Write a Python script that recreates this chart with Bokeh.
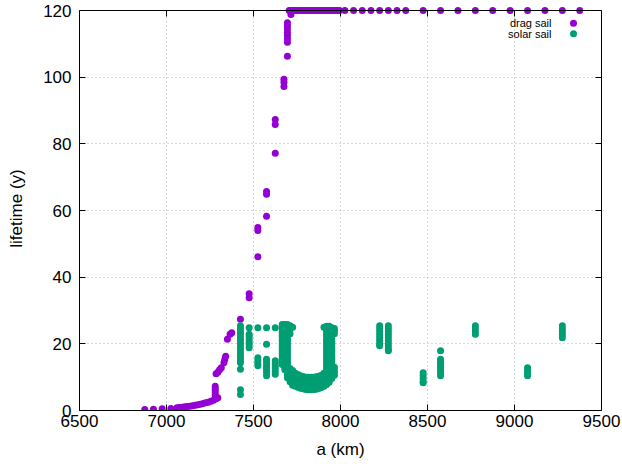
from bokeh.plotting import figure
from bokeh.models import Range1d, LinearAxis, FixedTicker, ColumnDataSource
from bokeh.core.properties import value
from bokeh.embed import file_html
from bokeh.resources import INLINE

PURPLE = "#9400d3"
GREEN = "#009e73"
FONT = "Liberation Sans"

x_ticks = [6500, 7000, 7500, 8000, 8500, 9000, 9500]
y_ticks = [0, 20, 40, 60, 80, 100, 120]
x_min, x_max = 6500, 9500
y_min, y_max = 0, 120

# ---- drag sail (a [km], lifetime [y]) ----
drag_low_a = [6875, 6925, 6975, 7025, 7060, 7075, 7090, 7105, 7120, 7135, 7150, 7165,
              7180, 7195, 7210, 7225, 7240, 7255, 7270, 7285, 7295]
drag_low_life = [0.3, 0.4, 0.5, 0.6, 0.8, 0.9, 1.0, 1.1, 1.2, 1.3, 1.4, 1.6,
                 1.7, 1.9, 2.1, 2.3, 2.5, 2.8, 3.1, 3.5, 3.8]
drag_mid_a = [7280, 7280, 7280, 7280, 7280, 7285, 7295, 7305, 7315, 7330, 7335, 7340,
              7350, 7365, 7375, 7425, 7475, 7475, 7525, 7525, 7525, 7575, 7575, 7575,
              7625, 7625, 7625, 7675, 7675, 7675, 7695, 7695, 7695, 7695, 7695, 7695,
              7695, 7695, 7715]
drag_mid_life = [4.5, 5.2, 5.9, 6.6, 7.3, 11.0, 11.5, 12.2, 12.8, 14.3, 15.3, 16.3,
                 21.4, 22.9, 23.3, 27.4, 35.0, 33.8, 46.1, 54.9, 54.0, 58.3, 65.7, 64.9,
                 77.2, 87.3, 85.8, 99.4, 98.5, 97.2, 106.3, 110.5, 111.5, 112.5, 113.5, 114.5,
                 115.5, 116.3, 118.8]
drag_top_a = [7705, 7715, 7725, 7735, 7745, 7755, 7765, 7775, 7785, 7795, 7805, 7815,
              7825, 7835, 7845, 7855, 7865, 7875, 7885, 7895, 7905, 7915, 7925, 7935,
              7945, 7955, 7965, 7975, 7985, 7995,
              8025, 8075, 8125, 8175, 8225, 8275, 8325, 8375,
              8475, 8575, 8675, 8775, 8875, 8975, 9075, 9175, 9275, 9375]
drag_top_life = [120] * len(drag_top_a)

# ---- solar sail: lifetimes listed per semi-major axis ----
solar_cols = {
    7425: [25.4, 24.6, 23.8, 23.0, 22.2, 21.4, 20.6, 19.8, 19.0, 18.2, 17.4, 16.6, 15.8, 15.0, 14.3, 12.4, 6.2, 4.8],
    7475: [24.8, 22.9, 22.1, 21.3, 20.5, 19.7, 18.8],
    7525: [24.8, 15.8, 15.0, 14.2, 13.4],
    7575: [24.8, 19.9, 15.4, 14.6, 13.8, 13.0, 12.2, 11.4, 10.4],
    7625: [24.8, 14.9, 14.1, 13.3, 12.5, 11.7, 10.9],
    7665: [25.8, 25.0, 24.2, 23.4, 22.6, 21.8, 21.0, 20.2, 19.4, 18.6, 17.8, 17.0, 16.2, 15.4, 14.6, 13.8],
    7680: [25.8, 25.0, 24.2, 23.4, 22.6, 21.8, 21.0, 20.2, 19.4, 18.6, 17.8, 17.0, 16.2, 15.4, 14.6, 13.8, 13.0, 12.2],
    7695: [25.8, 25.0, 24.2, 23.4, 22.6, 21.8, 21.0, 20.2, 19.4, 18.6, 17.8, 17.0, 16.2, 15.4, 14.6, 13.8, 13.0, 12.2, 11.4, 10.6, 9.8],
    7710: [25.4, 24.4, 23.0, 12.6, 11.8, 11.0, 10.2, 9.4, 8.6],
    7725: [25.0, 12.0, 11.2, 10.4, 9.6, 8.8, 8.0, 7.6],
    7740: [11.2, 10.4, 9.6, 8.8, 8.0, 7.3],
    7755: [10.8, 10.0, 9.2, 8.4, 7.6, 7.0],
    7770: [10.4, 9.6, 8.8, 8.0, 7.2, 6.7],
    7785: [10.2, 9.4, 8.6, 7.8, 7.0, 6.5],
    7800: [10.0, 9.2, 8.4, 7.6, 6.8, 6.3],
    7815: [10.0, 9.2, 8.4, 7.6, 6.8, 6.2],
    7830: [10.0, 9.2, 8.4, 7.6, 6.8, 6.2],
    7845: [10.0, 9.2, 8.4, 7.6, 6.8, 6.3],
    7860: [10.1, 9.3, 8.5, 7.7, 6.9, 6.4],
    7875: [10.3, 9.5, 8.7, 7.9, 7.1, 6.6],
    7890: [10.6, 9.8, 9.0, 8.2, 7.4, 6.9],
    7905: [25.0, 11.2, 10.4, 9.6, 8.8, 8.0, 7.3],
    7920: [25.3, 24.5, 23.7, 22.9, 22.1, 21.3, 20.5, 19.7, 18.9, 18.1, 17.3, 16.5, 15.7, 14.9, 14.1, 13.3, 12.5, 11.7, 10.9, 10.1, 9.3, 8.5, 7.8],
    7935: [25.3, 24.5, 23.7, 22.9, 22.1, 21.3, 20.5, 19.7, 18.9, 18.1, 17.3, 16.5, 15.7, 14.9, 14.1, 13.3, 12.5, 11.7, 10.9, 10.1, 9.3, 8.5],
    7950: [24.8, 24.0, 23.2, 22.4, 21.6, 20.8, 20.0, 19.2, 18.4, 17.6, 16.8, 16.0, 15.2, 14.4, 13.6, 12.8, 12.0, 11.2, 10.4, 9.6],
    7965: [24.6, 23.8, 23.0, 13.0, 12.2, 11.4, 10.6],
    8225: [25.4, 24.5, 23.6, 22.7, 21.8, 20.9, 20.0, 19.4],
    8275: [25.4, 24.5, 23.6, 22.7, 21.8, 20.9, 20.0, 19.1, 18.2, 17.9],
    8475: [11.3, 10.4, 9.5, 8.6, 8.3],
    8575: [17.9, 15.4, 14.6, 13.8, 13.0, 12.2, 11.4, 10.4],
    8775: [25.4, 24.5, 23.6, 22.9],
    9075: [12.8, 12.0, 11.2, 10.4],
    9275: [25.4, 24.5, 23.6, 22.7, 21.8],
}

legend_labels = ["drag sail", "solar sail"]

# ---- build sources ----
drag_src = ColumnDataSource(dict(a=drag_low_a + drag_mid_a + drag_top_a,
                                 life=drag_low_life + drag_mid_life + drag_top_life))
sa, sl = [], []
for a, lives in solar_cols.items():
    for v in lives:
        sa.append(a)
        sl.append(v)
solar_src = ColumnDataSource(dict(a=sa, life=sl))

# frame: 400 px for 0..120, plus a few px of headroom so the dots at 120 are not clipped
FW, FH0, PAD = 522, 400, 4
FH = FH0 + PAD
y_top = y_max * FH / FH0

p = figure(frame_width=FW, frame_height=FH,
           x_range=Range1d(x_min, x_max), y_range=Range1d(y_min, y_top),
           output_backend="svg", toolbar_location=None,
           min_border_left=79, min_border_right=21, min_border_top=10 - PAD, min_border_bottom=54,
           background_fill_color="white", border_fill_color="white")
p.outline_line_color = None

xt = FixedTicker(ticks=x_ticks)
yt = FixedTicker(ticks=y_ticks)
p.xaxis.ticker = xt
p.yaxis.ticker = yt
p.xgrid.visible = False
p.ygrid.ticker = yt
p.ygrid.grid_line_color = "#b0b0b0"
p.ygrid.grid_line_dash = "1 3"

# vertical grid lines limited to the 0..120 box
gx = x_ticks[1:-1]
p.segment(x0=gx, y0=[y_min] * len(gx), x1=gx, y1=[y_max] * len(gx),
          line_color="#b0b0b0", line_dash="1 3", line_width=1)

for ax in (p.xaxis[0], p.yaxis[0]):
    ax.major_tick_in = 6
    ax.major_tick_out = 0
    ax.minor_tick_in = 0
    ax.minor_tick_out = 0
    ax.axis_line_color = "black"
    ax.major_tick_line_color = "black"
    ax.major_label_text_font = FONT
    ax.major_label_text_font_size = "17px"
    ax.major_label_text_color = "black"
    ax.axis_label_text_font = FONT
    ax.axis_label_text_font_size = "17px"
    ax.axis_label_text_font_style = "normal"
    ax.axis_label_text_color = "black"
p.yaxis[0].bounds = (y_min, y_max)

p.xaxis[0].axis_label = "a (km)"
p.yaxis[0].axis_label = "lifetime (y)"
p.xaxis[0].major_label_standoff = 4
p.xaxis[0].axis_label_standoff = 10
p.yaxis[0].major_label_standoff = 8
p.yaxis[0].axis_label_standoff = 14

top = LinearAxis(ticker=xt, major_tick_in=6, major_tick_out=0, minor_tick_in=0, minor_tick_out=0,
                 major_label_text_font_size="1px", major_label_text_color=None,
                 axis_line_color="black", fixed_location=y_max)
right = LinearAxis(ticker=yt, major_tick_in=6, major_tick_out=0, minor_tick_in=0, minor_tick_out=0,
                   major_label_text_font_size="1px", major_label_text_color=None,
                   axis_line_color="black", bounds=(y_min, y_max))
p.add_layout(top, "above")
p.add_layout(right, "right")

p.scatter("a", "life", source=drag_src, size=7, color=PURPLE, line_color=None)
p.scatter("a", "life", source=solar_src, size=7, color=GREEN, line_color=None)

# key (gnuplot style: text then marker) placed in frame pixel coordinates
p.extra_x_ranges = {"px": Range1d(0, FW)}
p.extra_y_ranges = {"py": Range1d(0, FH)}
key_y = [FH0 - 12.7, FH0 - 23.3]
p.text(x=[472, 472], y=key_y, text=legend_labels, x_range_name="px", y_range_name="py",
       text_align="right", text_baseline="middle", text_font=value(FONT),
       text_font_size="11px", text_color="black")
p.scatter(x=[494, 494], y=key_y, color=[PURPLE, GREEN], size=7, line_color=None,
          x_range_name="px", y_range_name="py")

open("out.html", "w").write(file_html(p, INLINE))
